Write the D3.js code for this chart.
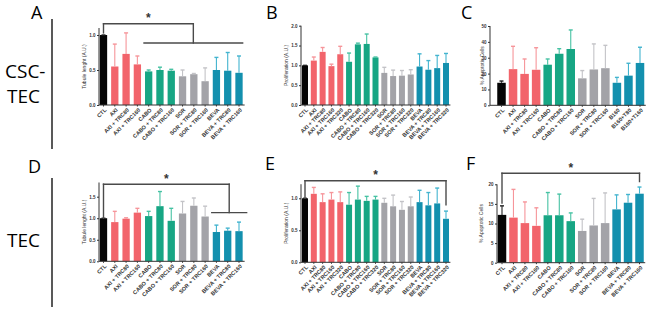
<!DOCTYPE html>
<html>
<head>
<meta charset="utf-8">
<script src="https://cdn.jsdelivr.net/npm/d3@7"></script>
<style>
  body { margin: 0; background: #fff; }
  .tick text { font-family: "Liberation Sans", Arial, sans-serif; }
</style>
</head>
<body>
<svg width="650" height="312"></svg>
<script>
// categories
const lab13 = ["CTL", "AXI", "AXI + TRC80", "AXI + TRC160", "CABO", "CABO + TRC80", "CABO + TRC160",
  "SOR", "SOR + TRC80", "SOR + TRC160", "BEVA", "BEVA + TRC80", "BEVA + TRC160"];
const grp13 = ["k", "r", "r", "r", "g", "g", "g", "s", "s", "s", "b", "b", "b"];
const lab17 = ["CTL", "AXI", "AXI + TRC80", "AXI + TRC160", "AXI + TRC320", "CABO", "CABO + TRC80",
  "CABO + TRC160", "CABO + TRC320", "SOR", "SOR + TRC80", "SOR + TRC160", "SOR + TRC320",
  "BEVA", "BEVA + TRC80", "BEVA + TRC160", "BEVA + TRC320"];
const grp17 = ["k", "r", "r", "r", "r", "g", "g", "g", "g", "s", "s", "s", "s", "b", "b", "b", "b"];
const labC = ["CTL", "AXI", "AXI + TRC80", "AXI + TRC160", "CABO", "CABO + TRC80", "CABO + TRC160",
  "SOR", "SOR + TRC80", "SOR + TRC160", "B160", "B160+T80", "B160+T160"];

// values (mean, top of error bar)
const valA = [1.0, 0.55, 0.73, 0.58, 0.48, 0.50, 0.49, 0.41, 0.44, 0.34, 0.50, 0.49, 0.46];
const errA = [1.0, 0.87, 1.03, 0.70, 0.50, 0.54, 0.51, 0.50, 0.45, 0.53, 0.68, 0.75, 0.70];
const valB = [1.0, 1.12, 1.34, 0.98, 1.28, 1.09, 1.53, 1.54, 1.20, 0.81, 0.73, 0.74, 0.77, 0.97, 0.89, 0.93, 1.06];
const errB = [1.0, 1.21, 1.45, 1.03, 1.48, 1.31, 1.56, 1.79, 1.21, 0.95, 0.88, 0.87, 0.89, 1.29, 1.12, 1.25, 1.30];
const valC = [14.2, 22.8, 19.8, 22.4, 25.6, 32.5, 35.5, 17.0, 22.6, 23.4, 14.2, 18.7, 26.7];
const errC = [15.3, 37.2, 29.2, 36.3, 29.2, 35.7, 47.5, 21.9, 38.7, 37.8, 17.6, 26.5, 36.6];
const valD = [1.0, 0.91, 0.99, 1.13, 1.05, 1.28, 0.94, 1.11, 1.29, 1.04, 0.68, 0.71, 0.70];
const errD = [1.0, 1.16, 1.01, 1.23, 1.16, 1.62, 1.23, 1.39, 1.47, 1.28, 0.84, 0.77, 0.91];
const valE = [1.0, 1.07, 0.94, 0.98, 0.94, 0.90, 0.98, 0.96, 0.98, 0.93, 0.875, 0.82, 0.875, 0.94, 0.89, 0.92, 0.68];
const errE = [1.0, 1.17, 1.07, 1.09, 1.10, 1.09, 1.19, 1.03, 1.03, 1.00, 1.05, 0.95, 1.02, 1.125, 1.09, 1.16, 0.80];
const valF = [12.2, 11.5, 10.1, 9.4, 12.1, 12.1, 10.6, 8.1, 9.5, 10.1, 13.6, 15.3, 17.6];
const errF = [14.5, 18.7, 15.5, 14.0, 17.9, 17.5, 12.7, 11.1, 16.4, 17.8, 17.3, 17.4, 19.3];

// y ticks
const ticksA = [0, 0.5, 1.0];
const ticksB = [0, 0.5, 1.0, 1.5, 2.0];
const ticksC = [0, 10, 20, 30, 40, 50];
const ticksD = [0, 0.5, 1.0, 1.5];
const ticksE = [0, 0.5, 1.0];
const ticksF = [0, 5, 10, 15, 20];

const colors = { k: "#050505", r: "#f2646b", g: "#17a684", s: "#a3a3a8", b: "#1390ae" };
const errColors = { k: "#222222", r: "#f6959a", g: "#46c2a3", s: "#c3c3c7", b: "#43b4cf" };

const svg = d3.select("svg");

const panels = [
  { letter: "A", lx: 31, ly: 19, labels: lab13, groups: grp13, vals: valA, errs: errA, ticks: ticksA, fmt: ".1f",
    axisX: 99, c0: 103.5, c1: 239, bw: 7.3, y0: 105, yRef: 35, dRef: 1, dTop: 1.1,
    ylab: "Tubule lenght (A.U.)", ylx: 86,
    bracket: { from: 0, gFrom: 4, gTo: 12, top: 1.16, left: 1.03, low: 0.886, lowEnd: 0 } },
  { letter: "B", lx: 266, ly: 19, labels: lab17, groups: grp17, vals: valB, errs: errB, ticks: ticksB, fmt: ".1f",
    axisX: 301, c0: 305, c1: 446, bw: 6, y0: 105, yRef: 25.7, dRef: 2, dTop: 2,
    ylab: "Proliferation (A.U.)", ylx: 288 },
  { letter: "C", lx: 461, ly: 19, labels: labC, groups: grp13, vals: valC, errs: errC, ticks: ticksC, fmt: "d",
    axisX: 490, c0: 501.5, c1: 640, bw: 8.5, y0: 105.3, yRef: 26, dRef: 50, dTop: 50,
    ylab: "% Apoptotic Cells", ylx: 484 },
  { letter: "D", lx: 28, ly: 173, labels: lab13, groups: grp13, vals: valD, errs: errD, ticks: ticksD, fmt: ".1f",
    axisX: 99, c0: 103.5, c1: 239, bw: 7.3, y0: 261.3, yRef: 196.7, dRef: 1.5, dTop: 1.83,
    ylab: "Tubule lenght (A.U.)", ylx: 86,
    bracket: { from: 0, gFrom: 10, gTo: 12, top: 1.79, left: 1.0, low: 1.13, lowEnd: 4 } },
  { letter: "E", lx: 265, ly: 170, labels: lab17, groups: grp17, vals: valE, errs: errE, ticks: ticksE, fmt: ".1f",
    axisX: 301, c0: 305, c1: 446, bw: 6, y0: 262.3, yRef: 198.3, dRef: 1, dTop: 1.22,
    ylab: "Proliferation (A.U.)", ylx: 288,
    bracket: { from: 0, to: 16, top: 1.275, left: 1.0, right: 0.9 } },
  { letter: "F", lx: 466, ly: 170, labels: lab13, groups: grp13, vals: valF, errs: errF, ticks: ticksF, fmt: "d",
    axisX: 497, c0: 502, c1: 639.5, bw: 8.5, y0: 262.7, yRef: 184.3, dRef: 20, dTop: 20,
    ylab: "% Apoptotic Cells", ylx: 483,
    bracket: { from: 0, to: 12, top: 22.8, left: 15.2, right: 20.7 } }
];

// row labels and separators
svg.append("line").attr("x1", 52).attr("x2", 52).attr("y1", 19).attr("y2", 149)
  .attr("stroke", "#222").attr("stroke-width", 1.5);
svg.append("line").attr("x1", 52).attr("x2", 52).attr("y1", 178).attr("y2", 307)
  .attr("stroke", "#222").attr("stroke-width", 1.5);
const rowFont = "'Open Sans', sans-serif";
svg.append("text").attr("x", 5).attr("y", 78).style("font-family", rowFont).style("font-size", "19px").text("CSC-");
svg.append("text").attr("x", 7).attr("y", 103).style("font-family", rowFont).style("font-size", "19px").text("TEC");
svg.append("text").attr("x", 7).attr("y", 247).style("font-family", rowFont).style("font-size", "19px").text("TEC");

panels.forEach(p => {
  const n = p.labels.length;
  const step = (p.c1 - p.c0) / (n - 1);
  const pad = 1 - p.bw / step;
  const x = d3.scaleBand()
    .domain(p.labels.map((d, i) => i))
    .range([p.c0 - step / 2, p.c1 + step / 2])
    .paddingInner(pad)
    .paddingOuter(pad / 2);
  const y = d3.scaleLinear().domain([0, p.dRef]).range([p.y0, p.yRef]);

  const g = svg.append("g");

  svg.append("text")
    .attr("x", p.lx).attr("y", p.ly)
    .style("font-family", rowFont).style("font-size", "18px")
    .text(p.letter);

  // bars
  g.selectAll("rect.bar")
    .data(p.vals)
    .join("rect")
      .attr("class", "bar")
      .attr("x", (d, i) => x(i))
      .attr("y", d => y(d))
      .attr("width", x.bandwidth())
      .attr("height", d => y(0) - y(d))
      .attr("fill", (d, i) => colors[p.groups[i]]);

  // error bars
  const eb = g.selectAll("g.err")
    .data(p.errs)
    .join("g")
      .attr("class", "err")
      .attr("stroke", (d, i) => errColors[p.groups[i]])
      .attr("stroke-width", 1.1);
  eb.append("line")
    .attr("x1", (d, i) => x(i) + x.bandwidth() / 2)
    .attr("x2", (d, i) => x(i) + x.bandwidth() / 2)
    .attr("y1", (d, i) => y(p.vals[i]))
    .attr("y2", d => y(d));
  eb.append("line")
    .attr("x1", (d, i) => x(i) + x.bandwidth() / 2 - 2)
    .attr("x2", (d, i) => x(i) + x.bandwidth() / 2 + 2)
    .attr("y1", d => y(d))
    .attr("y2", d => y(d))
    .attr("stroke-width", 1.4);

  // y axis
  const ya = g.append("g")
    .attr("transform", `translate(${p.axisX},0)`)
    .call(d3.axisLeft(y).tickValues(p.ticks).tickFormat(d3.format(p.fmt)).tickSize(2).tickPadding(1.5));
  ya.select(".domain").attr("d", `M0,${y(p.dTop)}V${y(0)}`).attr("stroke", "#333");
  ya.selectAll(".tick line").attr("stroke", "#333");
  ya.selectAll(".tick text").style("font-size", "4.5px").attr("fill", "#333").style("font-weight", "bold");

  g.append("text")
    .attr("transform", `translate(${p.ylx},${(y(0) + y(p.dTop)) / 2}) rotate(-90)`)
    .attr("text-anchor", "middle")
    .style("font-family", "'Liberation Sans', Arial, sans-serif")
    .style("font-size", "5px")
    .attr("fill", "#333")
    .text(p.ylab);

  // x axis
  const xa = g.append("g")
    .attr("transform", `translate(0,${y(0)})`)
    .call(d3.axisBottom(x).tickFormat(i => p.labels[i]).tickSize(1.5).tickSizeOuter(0));
  xa.select(".domain").attr("d", `M${p.axisX},0H${p.c1 + step / 2}`).attr("stroke", "#333");
  xa.selectAll(".tick line").attr("stroke", "#333");
  xa.selectAll(".tick text")
    .attr("x", 0).attr("y", 0).attr("dy", "0.35em")
    .attr("transform", "translate(2,4) rotate(-45)")
    .style("text-anchor", "end")
    .style("font-size", "5.5px")
    .style("font-weight", "bold")
    .attr("fill", "#333");

  // significance bracket
  const b = p.bracket;
  if (b) {
    const cx = i => x(i) + x.bandwidth() / 2;
    const lines = [];
    let starX;
    if (b.gFrom !== undefined) {
      const lx0 = x(b.gFrom) - 1;
      const lx1 = x(b.gTo) + x.bandwidth() + b.lowEnd;
      const mid = (lx0 + lx1) / 2;
      lines.push([cx(b.from), y(b.left), cx(b.from), y(b.top)]);
      lines.push([cx(b.from), y(b.top), mid, y(b.top)]);
      lines.push([mid, y(b.top), mid, y(b.low)]);
      lines.push([lx0, y(b.low), lx1, y(b.low)]);
      starX = (cx(b.from) + mid) / 2;
    } else {
      lines.push([cx(b.from), y(b.left), cx(b.from), y(b.top)]);
      lines.push([cx(b.from), y(b.top), cx(b.to), y(b.top)]);
      lines.push([cx(b.to), y(b.top), cx(b.to), y(b.right)]);
      starX = (cx(b.from) + cx(b.to)) / 2;
    }
    g.selectAll("line.br")
      .data(lines)
      .join("line")
        .attr("class", "br")
        .attr("x1", d => d[0]).attr("y1", d => d[1])
        .attr("x2", d => d[2]).attr("y2", d => d[3])
        .attr("stroke", "#4a4a4a")
        .attr("stroke-width", 1.4)
        .attr("stroke-linecap", "square");
    g.append("text")
      .attr("x", starX).attr("y", y(b.top) - 1.5)
      .attr("text-anchor", "middle")
      .style("font-family", "'Liberation Sans', Arial, sans-serif")
      .style("font-size", "12px")
      .style("font-weight", "bold")
      .attr("fill", "#333")
      .text("*");
  }
});
</script>
</body>
</html>
